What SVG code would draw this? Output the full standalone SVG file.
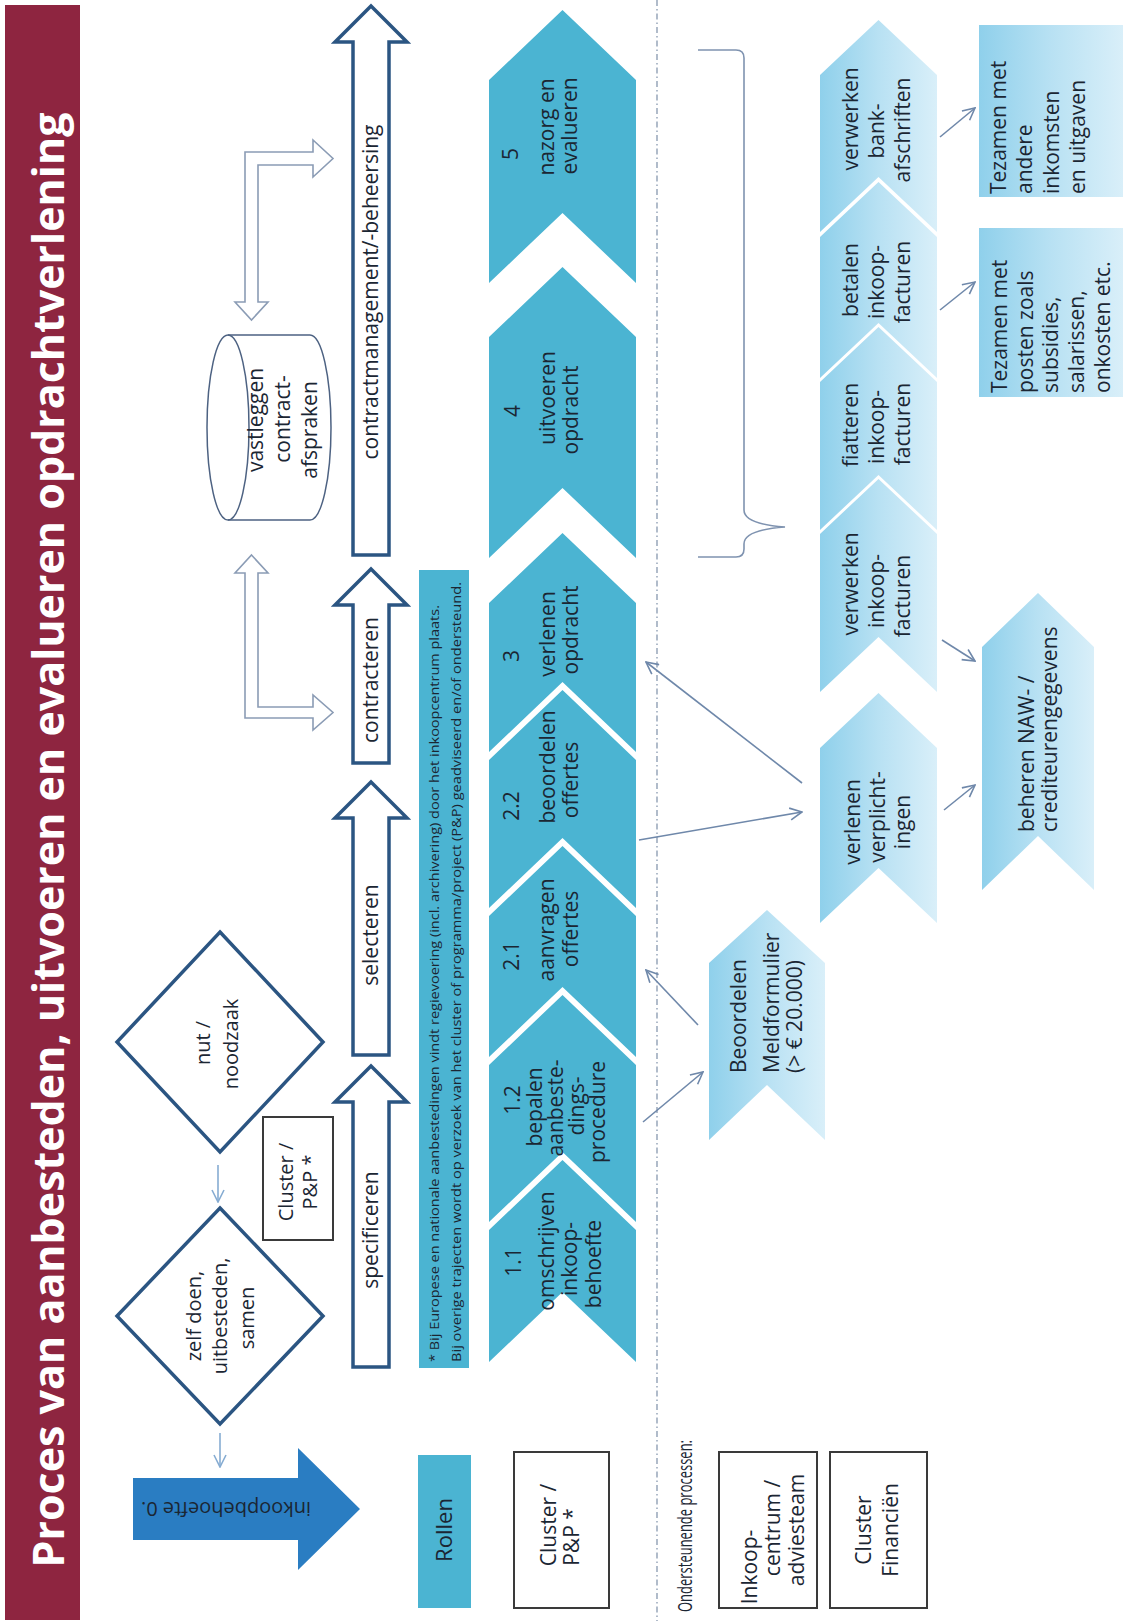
<svg xmlns="http://www.w3.org/2000/svg" width="1128" height="1621" viewBox="0 0 1128 1621" font-size="21">
<defs>
<style>
text { font-family: "Open Sans","Liberation Sans",sans-serif; fill:#1b2633; }
.mid { text-anchor:middle; }
.st { text-anchor:start; }
.white { fill:#ffffff; }
.chev { fill:#4bb4d2; }
.lchev { fill:url(#lg); }
.proc { fill:#ffffff; stroke:#2b5582; stroke-width:3.5; stroke-linejoin:miter; }
.hollow { fill:#ffffff; stroke:#8b9cb5; stroke-width:1.6; }
.dia { fill:#ffffff; stroke:#2b5582; stroke-width:3.5; }
.box { fill:#ffffff; stroke:#3a3a3a; stroke-width:2; }
.conn { fill:none; stroke:#6f88aa; stroke-width:1.6; marker-end:url(#ah); }
.connl { fill:none; stroke:#86acd2; stroke-width:1.6; marker-end:url(#ahl); }
</style>
<linearGradient id="lg" x1="0" y1="0" x2="1" y2="0">
<stop offset="0" stop-color="#8fd0eb"/>
<stop offset="0.5" stop-color="#b8e1f3"/>
<stop offset="1" stop-color="#d9eff9"/>
</linearGradient>
<marker id="ah" viewBox="0 0 14 14" refX="13" refY="7" markerWidth="14" markerHeight="14" markerUnits="userSpaceOnUse" orient="auto">
<path d="M1,1 L13,7 L1,13" fill="none" stroke="#6f88aa" stroke-width="1.6"/>
</marker>
<marker id="ahl" viewBox="0 0 14 14" refX="13" refY="7" markerWidth="14" markerHeight="14" markerUnits="userSpaceOnUse" orient="auto">
<path d="M1,1 L13,7 L1,13" fill="none" stroke="#86acd2" stroke-width="1.6"/>
</marker>
</defs>
<rect x="0" y="0" width="1128" height="1621" fill="#ffffff"/>

<g id="title">
<rect x="5" y="5" width="75" height="1615" fill="#8e2540"/>
<text class="white mid" transform="rotate(-90)" x="-840" y="64" font-size="43" font-weight="700" textLength="1455" lengthAdjust="spacingAndGlyphs">Proces van aanbesteden, uitvoeren en evalueren opdrachtverlening</text>
</g>

<g id="separator">
<line x1="657" y1="0" x2="657" y2="1621" stroke="#7d8fa8" stroke-width="1.2" stroke-dasharray="6 3 1.5 3"/>
</g>

<g id="inkoopbehoefte">
<polygon points="133,1478 298,1478 298,1448 360,1509 298,1570 298,1540 133,1540" fill="#2a7dc2"/>
<text class="mid" transform="translate(226,1509) rotate(180)" x="0" y="7" font-size="20">inkoopbehoefte 0.</text>
</g>

<g id="diamond-zelf">
<polygon class="dia" points="220,1208 323,1316 220,1424 117,1316"/>
<text class="mid" transform="rotate(-90)" font-size="20"><tspan x="-1316" y="201">zelf doen,</tspan><tspan x="-1316" y="227">uitbesteden,</tspan><tspan x="-1318" y="254">samen</tspan></text>
</g>

<g id="diamond-nut">
<polygon class="dia" points="220,932 323,1042 220,1152 117,1042"/>
<text class="mid" transform="rotate(-90)" font-size="20"><tspan x="-1043" y="210">nut /</tspan><tspan x="-1044" y="238">noodzaak</tspan></text>
</g>

<g id="cluster-pp-top">
<rect class="box" x="263" y="1117" width="70" height="123" stroke-width="1.5"/>
<text class="mid" transform="rotate(-90)" font-size="20"><tspan x="-1182" y="293">Cluster /</tspan><tspan x="-1182" y="317">P&amp;P *</tspan></text>
</g>

<g id="cylinder">
<path d="M228,335 H310 A21,92.5 0 0 1 310,520 H228 A21,92.5 0 0 1 228,335 Z" fill="#ffffff" stroke="#4d6282" stroke-width="1.5"/>
<path d="M228,335 A21,92.5 0 0 1 228,520" fill="none" stroke="#4d6282" stroke-width="1.5"/>
<text class="mid" transform="rotate(-90)"><tspan x="-420" y="263">vastleggen</tspan><tspan x="-419" y="290">contract-</tspan><tspan x="-430" y="317">afspraken</tspan></text>
</g>

<g id="bent-arrow-top">
<polygon class="hollow" points="245,152 313,152 313,140 333,158.5 313,177 313,165 258,165 258,302 268,302 251.5,320 235,302 245,302"/>
</g>
<g id="bent-arrow-bottom">
<polygon class="hollow" points="251.5,555 268,573 258,573 258,707 313,707 313,695 333,712.5 313,730 313,718 245,718 245,573 235,573"/>
</g>

<g id="proc-specificeren">
<polygon class="proc" points="353,1367 389,1367 389,1102 407,1102 371,1066 335,1102 353,1102"/>
<text class="mid" transform="rotate(-90)" x="-1230" y="378">specificeren</text>
</g>
<g id="proc-selecteren">
<polygon class="proc" points="353,1055 389,1055 389,818 407,818 371,782 335,818 353,818"/>
<text class="mid" transform="rotate(-90)" x="-935" y="378">selecteren</text>
</g>
<g id="proc-contracteren">
<polygon class="proc" points="353,763 389,763 389,605 407,605 371,569 335,605 353,605"/>
<text class="mid" transform="rotate(-90)" x="-680" y="378">contracteren</text>
</g>
<g id="proc-contractmanagement">
<polygon class="proc" points="353,555 389,555 389,42 407,42 371,6 335,42 353,42"/>
<text class="mid" transform="rotate(-90)" x="-292" y="378">contractmanagement/-beheersing</text>
</g>

<g id="footnote">
<rect x="419" y="570" width="50" height="798" fill="#4bb4d2"/>
<text class="st" transform="rotate(-90)" font-size="13.5"><tspan x="-1362" y="439" textLength="757" lengthAdjust="spacingAndGlyphs">* Bij Europese en nationale aanbestedingen vindt regievoering (incl. archivering) door het inkoopcentrum plaats.</tspan><tspan x="-1362" y="461" textLength="780" lengthAdjust="spacingAndGlyphs">Bij overige trajecten wordt op verzoek van het cluster of programma/project (P&amp;P) geadviseerd en/of ondersteund.</tspan></text>
</g>

<g id="step-5">
<polygon class="chev" points="489,80 562.5,10 636,80 636,283 562.5,213 489,283"/>
<text class="mid" transform="rotate(-90)"><tspan x="-154" y="518">5</tspan><tspan x="-127" y="554">nazorg en</tspan><tspan x="-126" y="577">evalueren</tspan></text>
</g>
<g id="step-4">
<polygon class="chev" points="489,337 562.5,267 636,337 636,558 562.5,488 489,558"/>
<text class="mid" transform="rotate(-90)"><tspan x="-411" y="520">4</tspan><tspan x="-398" y="555">uitvoeren</tspan><tspan x="-410" y="578">opdracht</tspan></text>
</g>
<g id="step-3">
<polygon class="chev" points="489,603 562.5,533 636,603 636,752 562.5,682 489,752"/>
<text class="mid" transform="rotate(-90)"><tspan x="-656" y="519">3</tspan><tspan x="-634" y="555">verlenen</tspan><tspan x="-630" y="578">opdracht</tspan></text>
</g>
<g id="step-2-2">
<polygon class="chev" points="489,760 562.5,690 636,760 636,908 562.5,838 489,908"/>
<text class="mid" transform="rotate(-90)"><tspan x="-806" y="519">2.2</tspan><tspan x="-767" y="555">beoordelen</tspan><tspan x="-780" y="578">offertes</tspan></text>
</g>
<g id="step-2-1">
<polygon class="chev" points="489,916 562.5,846 636,916 636,1057 562.5,987 489,1057"/>
<text class="mid" transform="rotate(-90)"><tspan x="-956" y="519">2.1</tspan><tspan x="-930" y="554">aanvragen</tspan><tspan x="-929" y="578">offertes</tspan></text>
</g>
<g id="step-1-2">
<polygon class="chev" points="489,1065 562.5,995 636,1065 636,1222 562.5,1152 489,1222"/>
<text class="mid" transform="rotate(-90)"><tspan x="-1100" y="520">1.2</tspan><tspan x="-1107" y="542">bepalen</tspan><tspan x="-1108" y="563">aanbeste-</tspan><tspan x="-1106" y="584">dings-</tspan><tspan x="-1112" y="605">procedure</tspan></text>
</g>
<g id="step-1-1">
<polygon class="chev" points="489,1230 562.5,1160 636,1230 636,1362 562.5,1292 489,1362"/>
<text class="mid" transform="rotate(-90)"><tspan x="-1262" y="521">1.1</tspan><tspan x="-1251" y="554">omschrijven</tspan><tspan x="-1259" y="577">inkoop-</tspan><tspan x="-1264" y="601">behoefte</tspan></text>
</g>

<g id="brace">
<path d="M698,50 L736,50 Q744,50 744,58 L744,510 Q744,524 785,527 Q744,530 744,544 L744,549 Q744,557 736,557 L698,557" fill="none" stroke="#7f93b0" stroke-width="1.6"/>
</g>

<g id="fin-bankafschriften">
<polygon class="lchev" points="820,75 878.5,20 937,75 937,232 878.5,177 820,232"/>
<text class="mid" transform="rotate(-90)"><tspan x="-119" y="858">verwerken</tspan><tspan x="-131" y="884">bank-</tspan><tspan x="-130" y="910">afschriften</tspan></text>
</g>
<g id="fin-betalen">
<polygon class="lchev" points="820,237 878.5,182 937,237 937,378 878.5,323 820,378"/>
<text class="mid" transform="rotate(-90)"><tspan x="-280" y="858">betalen</tspan><tspan x="-282" y="884">inkoop-</tspan><tspan x="-282" y="910">facturen</tspan></text>
</g>
<g id="fin-fiatteren">
<polygon class="lchev" points="820,382 878.5,327 937,382 937,530 878.5,475 820,530"/>
<text class="mid" transform="rotate(-90)"><tspan x="-425" y="858">fiatteren</tspan><tspan x="-427" y="884">inkoop-</tspan><tspan x="-424" y="910">facturen</tspan></text>
</g>
<g id="fin-verwerken">
<polygon class="lchev" points="820,534 878.5,479 937,534 937,692 878.5,637 820,692"/>
<text class="mid" transform="rotate(-90)"><tspan x="-584" y="858">verwerken</tspan><tspan x="-591" y="884">inkoop-</tspan><tspan x="-596" y="910">facturen</tspan></text>
</g>
<g id="fin-verplichtingen">
<polygon class="lchev" points="820,748 878.5,693 937,748 937,923 878.5,868 820,923"/>
<text class="mid" transform="rotate(-90)"><tspan x="-822" y="860">verlenen</tspan><tspan x="-817" y="885">verplicht-</tspan><tspan x="-822" y="910">ingen</tspan></text>
</g>
<g id="fin-naw">
<polygon class="lchev" points="982,647 1038,593 1094,647 1094,890 1038,836 982,890"/>
<text class="st" transform="rotate(-90)"><tspan x="-832" y="1034">beheren NAW- /</tspan><tspan x="-832" y="1057">crediteurengegevens</tspan></text>
</g>
<g id="meldformulier">
<polygon class="lchev" points="709,963 767,910 825,963 825,1140 767,1085 709,1140"/>
<text class="st" transform="rotate(-90)"><tspan x="-1073" y="746">Beoordelen</tspan><tspan x="-1073" y="779">Meldformulier</tspan><tspan x="-1073" y="802">(&gt; € 20.000)</tspan></text>
</g>
<g id="box-inkomsten">
<rect class="lchev" x="979" y="25" width="144" height="172"/>
<text class="st" transform="rotate(-90)"><tspan x="-194" y="1006">Tezamen met</tspan><tspan x="-194" y="1032">andere</tspan><tspan x="-194" y="1059">inkomsten</tspan><tspan x="-194" y="1085">en uitgaven</tspan></text>
</g>
<g id="box-posten">
<rect class="lchev" x="979" y="228" width="144" height="169"/>
<text class="st" transform="rotate(-90)"><tspan x="-393" y="1007">Tezamen met</tspan><tspan x="-393" y="1033">posten zoals</tspan><tspan x="-393" y="1058">subsidies,</tspan><tspan x="-393" y="1084">salarissen,</tspan><tspan x="-393" y="1110">onkosten etc.</tspan></text>
</g>

<g id="rollen">
<rect x="418" y="1455" width="53" height="153" fill="#4bb4d2"/>
<text class="mid" transform="rotate(-90)" x="-1530" y="452" font-size="22">Rollen</text>
</g>
<g id="role-cluster-pp">
<rect class="box" x="514" y="1452" width="95" height="156"/>
<text class="mid" transform="rotate(-90)"><tspan x="-1525" y="556">Cluster /</tspan><tspan x="-1537" y="579">P&amp;P *</tspan></text>
</g>
<g id="ondersteunend-label">
<text class="st" transform="rotate(-90)" x="-1612" y="692" font-size="20" textLength="172" lengthAdjust="spacingAndGlyphs">Ondersteunende processen:</text>
</g>
<g id="role-inkoopcentrum">
<rect class="box" x="719" y="1452" width="98" height="156"/>
<text class="mid" transform="rotate(-90)"><tspan x="-1567" y="757">Inkoop-</tspan><tspan x="-1528" y="780">centrum /</tspan><tspan x="-1530" y="804">adviesteam</tspan></text>
</g>
<g id="role-financien">
<rect class="box" x="830" y="1452" width="97" height="156"/>
<text class="mid" transform="rotate(-90)"><tspan x="-1530" y="871">Cluster</tspan><tspan x="-1530" y="898">Financiën</tspan></text>
</g>

<g id="connectors">
<line class="connl" x1="218" y1="1165" x2="218" y2="1202"/>
<line class="connl" x1="220" y1="1433" x2="220" y2="1467"/>
<line class="conn" x1="940" y1="137" x2="975" y2="108"/>
<line class="conn" x1="940" y1="310" x2="975" y2="282"/>
<line class="conn" x1="942" y1="640" x2="975" y2="661"/>
<line class="conn" x1="944" y1="810" x2="975" y2="785"/>
<line class="conn" x1="639" y1="840" x2="802" y2="812"/>
<line class="conn" x1="802" y1="783" x2="646" y2="662"/>
<line class="conn" x1="643" y1="1122" x2="703" y2="1072"/>
<line class="conn" x1="698" y1="1025" x2="646" y2="970"/>
</g>
</svg>
